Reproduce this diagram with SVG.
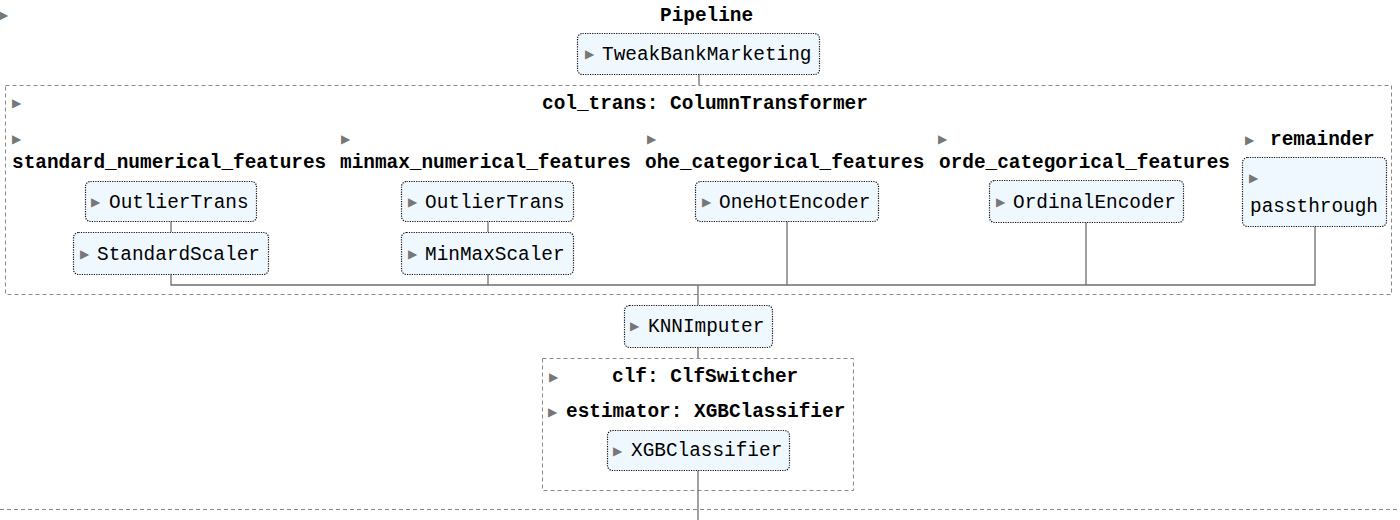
<svg xmlns="http://www.w3.org/2000/svg" width="1400" height="520" viewBox="0 0 1400 520">
<style>
text{font-family:"Liberation Mono","DejaVu Sans Mono",monospace;font-size:19.4px;fill:#000}
.b{font-weight:bold}
.tri{font-family:"DejaVu Sans",sans-serif;font-size:12px;fill:#777}
.node{fill:#f0f8ff;stroke:#111;stroke-width:1.2;stroke-dasharray:1.2 1.2}
.cont{fill:none;stroke:#8a8a8a;stroke-width:1;stroke-dasharray:4 3}
.conn{fill:none;stroke:#6e6e6e;stroke-width:1.3}
</style>
<rect width="1400" height="520" fill="#fff"/>
<g id="containers">
<rect class="cont" x="5.5" y="85.5" width="1386" height="209"/>
<rect class="cont" x="542.5" y="358.5" width="311" height="132"/>
<line class="cont" x1="0" y1="509.5" x2="1400" y2="509.5"/>
</g>
<g id="connectors">
<line class="conn" x1="699" y1="74" x2="699" y2="85"/>
<line class="conn" x1="171" y1="221" x2="171" y2="232"/>
<line class="conn" x1="488" y1="221" x2="488" y2="232"/>
<polyline class="conn" points="171,274 171,285 1315,285 1315,226"/>
<line class="conn" x1="488" y1="274" x2="488" y2="285"/>
<line class="conn" x1="787" y1="221" x2="787" y2="285"/>
<line class="conn" x1="1086" y1="222" x2="1086" y2="285"/>
<line class="conn" x1="698" y1="285" x2="698" y2="305"/>
<line class="conn" x1="698" y1="347" x2="698" y2="358"/>
<line class="conn" x1="698" y1="470" x2="698" y2="520"/>
</g>
<g id="pipeline">
<text class="tri" x="-1" y="19">▶</text>
<text class="b" x="660" y="21">Pipeline</text>
</g>
<g id="tweak">
<rect class="node" x="577.5" y="33.5" width="242" height="41" rx="5"/>
<text class="tri" x="585" y="58">▶</text>
<text x="602" y="60">TweakBankMarketing</text>
</g>
<g id="col_trans">
<text class="tri" x="12" y="107">▶</text>
<text class="b" x="542" y="109">col_trans: ColumnTransformer</text>
</g>
<g id="standard_numerical_features">
<text class="tri" x="12" y="143">▶</text>
<text class="b" x="12" y="168">standard_numerical_features</text>
</g>
<g id="outlier1">
<rect class="node" x="85.5" y="181.5" width="171" height="40" rx="5"/>
<text class="tri" x="91" y="206">▶</text>
<text x="109" y="208">OutlierTrans</text>
</g>
<g id="standardscaler">
<rect class="node" x="73.5" y="232.5" width="195" height="42" rx="5"/>
<text class="tri" x="80" y="258">▶</text>
<text x="97" y="260">StandardScaler</text>
</g>
<g id="minmax_numerical_features">
<text class="tri" x="341" y="143">▶</text>
<text class="b" x="340" y="168">minmax_numerical_features</text>
</g>
<g id="outlier2">
<rect class="node" x="401.5" y="181.5" width="172" height="40" rx="5"/>
<text class="tri" x="408" y="206">▶</text>
<text x="425" y="208">OutlierTrans</text>
</g>
<g id="minmaxscaler">
<rect class="node" x="401.5" y="232.5" width="172" height="42" rx="5"/>
<text class="tri" x="408" y="258">▶</text>
<text x="425" y="260">MinMaxScaler</text>
</g>
<g id="ohe_categorical_features">
<text class="tri" x="647" y="143">▶</text>
<text class="b" x="645" y="168">ohe_categorical_features</text>
</g>
<g id="onehotencoder">
<rect class="node" x="695.5" y="181.5" width="183" height="40" rx="5"/>
<text class="tri" x="702" y="206">▶</text>
<text x="719" y="208">OneHotEncoder</text>
</g>
<g id="orde_categorical_features">
<text class="tri" x="938" y="143">▶</text>
<text class="b" x="939" y="168">orde_categorical_features</text>
</g>
<g id="ordinalencoder">
<rect class="node" x="989.5" y="180.5" width="194" height="42" rx="5"/>
<text class="tri" x="996" y="206">▶</text>
<text x="1013" y="208">OrdinalEncoder</text>
</g>
<g id="remainder">
<text class="tri" x="1245" y="144">▶</text>
<text class="b" x="1270" y="145">remainder</text>
</g>
<g id="passthrough">
<rect class="node" x="1242.5" y="157.5" width="144" height="69" rx="5"/>
<text class="tri" x="1249" y="182">▶</text>
<text x="1250" y="212">passthrough</text>
</g>
<g id="knnimputer">
<rect class="node" x="624.5" y="305.5" width="148" height="42" rx="5"/>
<text class="tri" x="630" y="330">▶</text>
<text x="648" y="332">KNNImputer</text>
</g>
<g id="clf">
<text class="tri" x="549" y="381">▶</text>
<text class="b" x="612" y="382">clf: ClfSwitcher</text>
<text class="tri" x="548" y="416">▶</text>
<text class="b" x="566" y="417">estimator: XGBClassifier</text>
</g>
<g id="xgbclassifier">
<rect class="node" x="607.5" y="430.5" width="182" height="40" rx="5"/>
<text class="tri" x="613" y="455">▶</text>
<text x="631" y="456">XGBClassifier</text>
</g>
</svg>
